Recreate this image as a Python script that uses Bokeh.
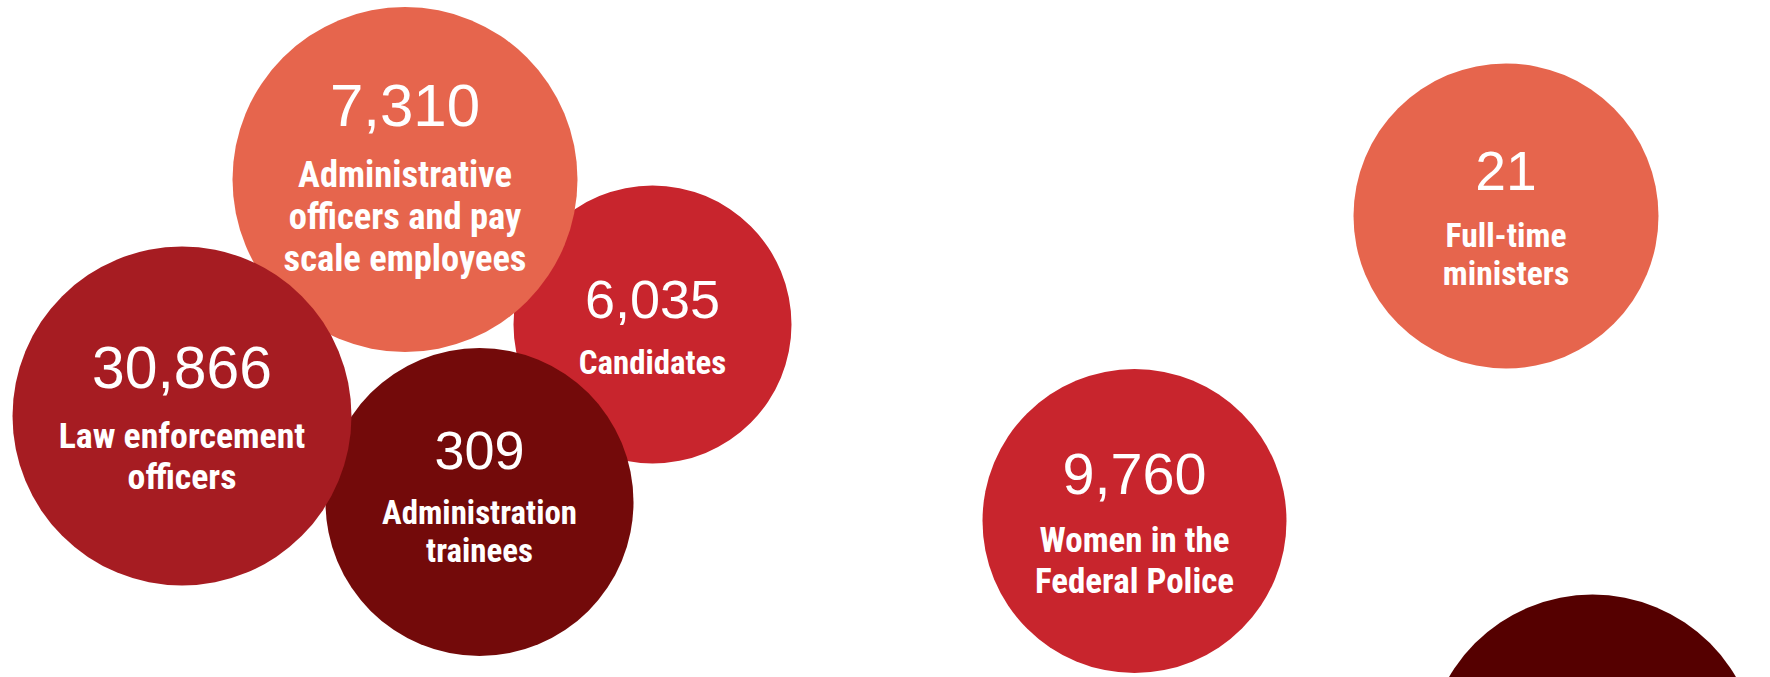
from bokeh.plotting import figure
from bokeh.models import ColumnDataSource, Range1d
from bokeh.core.properties import value
from bokeh.embed import file_html
from bokeh.resources import INLINE

# ---- data ----
values = [7310, 30866, 6035, 309, 21, 9760, None]   # last bubble is cut off at the bottom
labels = [
    ["Administrative", "officers and pay", "scale employees"],
    ["Law enforcement", "officers"],
    ["Candidates"],
    ["Administration", "trainees"],
    ["Full-time", "ministers"],
    ["Women in the", "Federal Police"],
    [],
]
colors = ["#E6654D", "#A61C22", "#C8252D", "#730A0A", "#E6654D", "#C8252D", "#550000"]

# ---- layout (bubble centres / radii in page pixels, font scale, text nudge) ----
cx = [404.5, 181.5, 652, 479, 1505.5, 1134, 1592]
cy = [179, 415.5, 324, 501.5, 215.5, 520.5, 760]
rad = [172.5, 169.5, 139, 154, 152.5, 152, 166]
fscale = [1.0, 0.98, 0.9, 0.9, 0.92, 0.96, 0.95]
text_dy = [-4, 0, 0, -8, 0, 0, 0]
draw_order = [2, 3, 0, 1, 4, 5, 6]

W, H = 1770, 677
p = figure(width=W, height=H, output_backend="svg", toolbar_location=None,
           x_range=Range1d(0, W), y_range=Range1d(H, 0),
           min_border=0, outline_line_color=None)
p.axis.visible = False
p.grid.visible = False
p.background_fill_color = "white"
p.border_fill_color = "white"

src = ColumnDataSource(dict(
    x=[cx[i] for i in draw_order], y=[cy[i] for i in draw_order],
    r=[rad[i] for i in draw_order], c=[colors[i] for i in draw_order]))
p.circle(x="x", y="y", radius="r", fill_color="c", line_color=None, source=src)

NUM_PX, LAB_PX, SHIFT = 60, 36.5, 0.37
nx, ny, nt, nf = [], [], [], []
lx, ly, lt, lf = [], [], [], []
for i, v in enumerate(values):
    if v is None:
        continue
    s = fscale[i]
    cap = 43 * s
    gap = 61 * s
    lh = 42 * s
    n = len(labels[i])
    block = cap + (gap + (n - 1) * lh if n else 0)
    base = cy[i] - block / 2 + cap + 3 + text_dy[i]
    nfs = NUM_PX * s
    nx.append(cx[i]); ny.append(base - SHIFT * nfs); nt.append(f"{v:,}"); nf.append(f"{nfs:.1f}px")
    lfs = LAB_PX * s
    for k, line in enumerate(labels[i]):
        lx.append(cx[i]); ly.append(base + gap + k * lh - SHIFT * lfs); lt.append(line)
        lf.append(f"{lfs:.1f}px")

p.text(x="x", y="y", text="t", text_font_size="f", source=ColumnDataSource(dict(x=nx, y=ny, t=nt, f=nf)),
       text_align="center", text_baseline="alphabetic", text_color="white",
       text_font=value("Liberation Sans"))
p.text(x="x", y="y", text="t", text_font_size="f", source=ColumnDataSource(dict(x=lx, y=ly, t=lt, f=lf)),
       text_align="center", text_baseline="alphabetic", text_color="white",
       text_font=value("Roboto Condensed, DejaVu Sans Condensed, sans-serif"), text_font_style="bold")

open("out.html", "w").write(file_html(p, INLINE))
